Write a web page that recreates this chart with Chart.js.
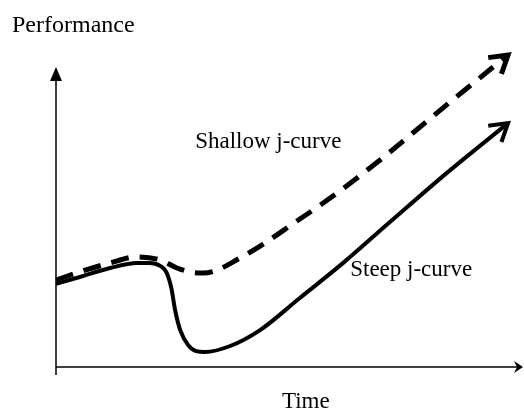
<!DOCTYPE html>
<html>
<head>
<meta charset="utf-8">
<script src="https://cdn.jsdelivr.net/npm/chart.js@4.4.1/dist/chart.umd.min.js"></script>
<style>
  html, body { margin: 0; padding: 0; background: #fff; }
  #wrap { width: 524px; height: 411px; }
</style>
</head>
<body>
<div id="wrap"><canvas id="jcurve"></canvas></div>
<script>
// time / performance in arbitrary units (0..10)
const steepTime = [0, 0.51, 1.16, 1.73, 2.01, 2.23, 2.36, 2.47, 2.55, 2.66, 2.83, 3.0, 3.19, 3.73, 4.37, 5.22, 6.15, 7.15, 8.37, 9.68]
const steepPerf = [2.77, 3.0, 3.3, 3.47, 3.47, 3.37, 3.17, 2.63, 1.9, 1.23, 0.73, 0.53, 0.5, 0.7, 1.23, 2.3, 3.47, 4.83, 6.47, 8.13]

const shallowTime = [0, 0.51, 1.16, 1.73, 2.23, 2.59, 2.87, 3.15, 3.45, 3.9, 4.37, 5.07, 5.87, 6.94, 7.64, 8.39, 9.68]
const shallowPerf = [2.9, 3.17, 3.47, 3.67, 3.57, 3.3, 3.17, 3.13, 3.23, 3.6, 4.03, 4.77, 5.63, 6.9, 7.8, 8.77, 10.4]

const curveLabels = ['Shallow j-curve', 'Steep j-curve']
const labelTime = [2.98, 6.3]
const labelPerf = [7.3, 3.03]

const xTitle = 'Time'
const yTitle = 'Performance'

const FONT = '23px "Liberation Serif", "Times New Roman", serif'

function toPoints(xs, ys) {
    return xs.map((x, i) => ({ x: x, y: ys[i] }))
}

const sketchPlugin = {
    id: 'sketch',
    afterDatasetsDraw(chart) {
        const ctx = chart.ctx
        const xs = chart.scales.x
        const ys = chart.scales.y
        const x0 = xs.getPixelForValue(0)
        const y0 = ys.getPixelForValue(0)

        ctx.save()
        ctx.strokeStyle = '#000'
        ctx.fillStyle = '#000'

        // axes
        ctx.lineWidth = 1.5
        ctx.beginPath()
        ctx.moveTo(x0, ys.getPixelForValue(-0.27))
        ctx.lineTo(x0, ys.getPixelForValue(10) + 8)
        ctx.moveTo(x0, y0)
        ctx.lineTo(xs.getPixelForValue(10) - 4, y0)
        ctx.stroke()

        // y axis arrow
        let ty = ys.getPixelForValue(10)
        ctx.beginPath()
        ctx.moveTo(x0, ty)
        ctx.lineTo(x0 - 6, ty + 14)
        ctx.lineTo(x0 + 6, ty + 14)
        ctx.closePath()
        ctx.fill()

        // x axis arrow
        let tx = xs.getPixelForValue(10)
        ctx.beginPath()
        ctx.moveTo(tx, y0)
        ctx.lineTo(tx - 9, y0 - 6)
        ctx.lineTo(tx - 6, y0)
        ctx.lineTo(tx - 9, y0 + 6)
        ctx.closePath()
        ctx.fill()

        // arrow heads on the curves
        chart.data.datasets.forEach((ds, i) => {
            const pts = chart.getDatasetMeta(i).data
            const a = pts[pts.length - 2]
            const b = pts[pts.length - 1]
            const ang = Math.atan2(b.y - a.y, b.x - a.x)
            const len = 20
            const spread = 0.55
            ctx.setLineDash([])
            ctx.lineCap = 'butt'
            ctx.lineJoin = 'miter'
            ctx.lineWidth = ds.borderWidth
            ctx.beginPath()
            ctx.moveTo(b.x - len * Math.cos(ang - spread), b.y - len * Math.sin(ang - spread))
            ctx.lineTo(b.x, b.y)
            ctx.lineTo(b.x - len * Math.cos(ang + spread), b.y - len * Math.sin(ang + spread))
            ctx.stroke()
        })

        // texts
        ctx.font = FONT
        ctx.textBaseline = 'alphabetic'
        ctx.textAlign = 'left'
        curveLabels.forEach((t, i) => {
            ctx.fillText(t, xs.getPixelForValue(labelTime[i]), ys.getPixelForValue(labelPerf[i]))
        })
        ctx.font = '24px "Liberation Serif", "Times New Roman", serif'
        ctx.fillText(yTitle, 12, 32)
        ctx.font = FONT
        ctx.textAlign = 'center'
        ctx.fillText(xTitle, xs.getPixelForValue(5.35), y0 + 41)

        ctx.restore()
    }
}

document.addEventListener("DOMContentLoaded", function () {

    const canvas = document.getElementById("jcurve")

    new Chart(canvas, {
        type: 'line',
        data: {
            datasets: [{
                label: curveLabels[0],
                data: toPoints(shallowTime, shallowPerf),
                borderColor: '#000',
                borderWidth: 5,
                borderDash: [18, 11],
                pointRadius: 0,
                cubicInterpolationMode: 'monotone',
                fill: false
            }, {
                label: curveLabels[1],
                data: toPoints(steepTime, steepPerf),
                borderColor: '#000',
                borderWidth: 4,
                pointRadius: 0,
                cubicInterpolationMode: 'monotone',
                fill: false
            }]
        },
        options: {
            responsive: true,
            maintainAspectRatio: false,
            animation: false,
            clip: false,
            layout: {
                padding: { left: 56, right: 1, top: 37, bottom: 44 }
            },
            plugins: {
                legend: { display: false },
                tooltip: { enabled: false },
                title: { display: false }
            },
            scales: {
                x: {
                    type: 'linear',
                    min: 0,
                    max: 10,
                    grid: { display: false, drawTicks: false },
                    border: { display: false },
                    ticks: { display: false }
                },
                y: {
                    type: 'linear',
                    min: 0,
                    max: 11,
                    grid: { display: false, drawTicks: false },
                    border: { display: false },
                    ticks: { display: false }
                }
            }
        },
        plugins: [sketchPlugin]
    })

});
</script>
</body>
</html>
